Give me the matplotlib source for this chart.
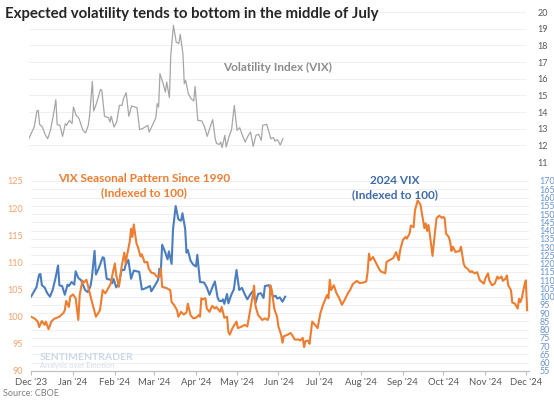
import matplotlib
matplotlib.use("Agg")
import matplotlib.pyplot as plt
import matplotlib.dates as mdates
import numpy as np
import pandas as pd

plt.rcParams['font.family'] = ['Lato', 'DejaVu Sans']

start = pd.Timestamp('2023-12-01')

# VIX level, days counted from 1 Dec 2023
vix_days = [0, 4, 6, 7, 8, 10, 12, 14, 16, 18, 20, 21, 23, 25, 27, 28, 30, 32, 33, 35,
            37, 40, 42, 44, 45, 47, 48, 50, 53, 54, 56, 59, 60, 61, 63, 65, 67, 69, 70, 72,
            74, 76, 80, 82, 84, 88, 89, 92, 94, 95, 96, 97, 99, 101, 102, 104, 105, 107, 109, 111,
            112, 114, 115, 116, 118, 120, 122, 123, 125, 128, 130, 132, 134, 136, 138, 139, 141, 142, 143, 145,
            146, 148, 150, 152, 154, 156, 158, 160, 162, 164, 166, 168, 170, 172, 173, 176, 178, 179, 181, 182,
            184, 186, 188]
vix = [12.4, 13.1, 14.06, 14.1, 13.26, 13.1, 12.66, 12.4, 12.9, 13.74, 14.74, 13.24, 13.2, 12.54, 13.3, 13.2, 13.5, 13.3, 14.3, 13.8,
       13.64, 12.9, 12.74, 13.2, 13.8, 15.84, 14.06, 14.5, 15.36, 15.3, 13.74, 13.66, 13.4, 13.74, 13.1, 13.4, 14.4, 14.4, 14.8, 15.16,
       13.74, 14.36, 14.26, 12.94, 13.0, 13.2, 12.8, 13.3, 13.66, 14.5, 14.3, 16.3, 15.8, 15.2, 15.8, 14.86, 17.4, 19.2, 18.2, 18.1,
       18.66, 17.5, 15.7, 15.9, 15.1, 14.8, 14.66, 15.54, 13.5, 13.46, 13.1, 12.54, 13.06, 13.54, 12.34, 12.1, 12.06, 12.2, 11.86, 12.6,
       11.9, 12.5, 12.94, 14.4, 12.9, 13.06, 12.6, 12.2, 12.54, 12.8, 11.94, 12.6, 12.66, 12.3, 13.2, 13.26, 12.7, 12.4, 12.46, 12.26,
       12.34, 12.02, 12.4]

# VIX seasonal pattern since 1990, indexed to 100
seas_days = [0, 3, 5, 6, 8, 10, 11, 12, 13, 15, 17, 19, 21, 24, 25, 26, 28, 29, 31, 33,
             35, 36, 38, 39, 41, 42, 45, 48, 51, 53, 55, 57, 59, 60, 62, 63, 65, 67, 69, 70,
             71, 73, 74, 75, 76, 78, 79, 81, 82, 84, 86, 87, 89, 91, 93, 95, 96, 97, 100, 103,
             104, 106, 108, 109, 111, 113, 115, 116, 118, 120, 122, 124, 125, 126, 127, 129, 130, 132, 134, 136,
             137, 138, 140, 141, 143, 145, 146, 147, 149, 152, 153, 156, 158, 160, 162, 164, 165, 166, 168, 171,
             173, 175, 176, 177, 178, 180, 182, 183, 185, 186, 187, 190, 192, 193, 195, 198, 199, 201, 202, 203,
             205, 206, 208, 210, 212, 214, 216, 219, 220, 221, 222, 224, 226, 228, 230, 232, 235, 236, 238, 241,
             243, 246, 248, 249, 250, 251, 253, 256, 258, 259, 262, 263, 265, 268, 270, 272, 273, 275, 277, 278,
             280, 281, 283, 284, 286, 288, 289, 291, 292, 293, 294, 295, 297, 299, 300, 302, 304, 305, 306, 307,
             309, 310, 311, 312, 314, 315, 317, 318, 320, 321, 323, 325, 326, 328, 330, 332, 335, 336, 338, 339,
             341, 343, 345, 346, 348, 349, 351, 352, 353, 355, 356, 358, 360, 361, 362, 363, 365, 366, 367]
seasonal = [100.0, 99.6, 99.1, 98.1, 99.2, 98.5, 99.1, 98.4, 97.7, 99.1, 99.6, 99.8, 100.0, 100.7, 101.2, 102.9, 101.8, 103.7, 104.1, 103.4,
            99.4, 104.0, 106.6, 106.3, 106.8, 105.8, 102.8, 100.0, 101.2, 104.9, 104.3, 105.2, 106.1, 107.5, 109.8, 107.7, 105.5, 109.2, 111.8, 109.8,
            111.3, 113.8, 116.2, 114.7, 117.0, 113.5, 112.9, 111.1, 111.5, 110.0, 110.1, 108.9, 108.1, 108.0, 107.4, 107.4, 108.9, 105.5, 105.3, 104.9,
            102.7, 102.1, 101.2, 100.0, 100.9, 100.4, 100.8, 102.4, 100.3, 99.7, 99.8, 100.3, 100.0, 103.4, 103.2, 103.4, 101.5, 100.9, 102.0, 101.5,
            101.8, 101.5, 100.9, 101.8, 99.8, 100.0, 97.2, 96.7, 97.9, 99.1, 97.9, 98.2, 98.5, 98.2, 101.1, 103.9, 105.7, 102.0, 100.3, 99.4,
            99.7, 99.4, 100.0, 105.8, 105.0, 101.4, 100.0, 98.2, 96.7, 95.2, 96.4, 96.7, 97.0, 96.7, 95.8, 95.8, 95.6, 96.1, 94.4, 95.5,
            95.6, 95.0, 99.1, 98.5, 97.9, 100.6, 102.2, 104.0, 103.4, 106.8, 104.9, 105.8, 104.3, 103.4, 102.2, 103.1, 104.6, 104.9, 106.0, 106.6,
            106.2, 106.3, 106.5, 108.3, 111.6, 110.4, 111.0, 109.5, 108.6, 108.3, 108.0, 110.1, 110.4, 110.8, 111.9, 110.4, 112.2, 114.1, 114.7, 114.4,
            115.3, 116.8, 116.5, 119.6, 121.4, 120.7, 119.2, 116.3, 117.2, 115.8, 116.9, 115.2, 111.2, 116.0, 118.2, 118.6, 118.2, 118.4, 118.1, 115.3,
            114.7, 113.8, 112.1, 112.9, 111.9, 112.0, 112.1, 112.9, 109.8, 109.2, 108.8, 108.2, 108.4, 108.0, 108.2, 106.7, 106.1, 107.0, 108.0, 106.7,
            105.8, 106.1, 107.4, 107.0, 107.4, 106.6, 107.0, 107.6, 105.8, 104.9, 102.6, 102.4, 101.5, 103.3, 102.7, 103.4, 105.8, 106.7, 101.2]

vix_dates = start + pd.to_timedelta(vix_days, unit='D')
seas_dates = start + pd.to_timedelta(seas_days, unit='D')
vix_indexed = np.array(vix) / vix[0] * 100

orange = '#ED7D31'
blue = '#4A7EBF'
grid_c = '#EDEDED'
tick_c = '#595959'

fig = plt.figure(figsize=(5.54, 4.0), dpi=100)
xmin, xmax = pd.Timestamp('2023-12-01'), pd.Timestamp('2024-12-03')

# top panel: VIX level
ax_top = fig.add_axes([0.052, 0.595, 0.898, 0.375])
ax_top.plot(vix_dates, vix, color='#A6A6A6', lw=0.9)
ax_top.set_ylim(11, 20)
ax_top.set_xlim(xmin, xmax)
ax_top.set_yticks(range(11, 21))
ax_top.yaxis.tick_right()
ax_top.tick_params(axis='y', length=0, labelsize=6.5, labelcolor=tick_c, pad=8)
ax_top.set_xticks([])
ax_top.grid(axis='y', color=grid_c, lw=0.6)
ax_top.set_axisbelow(True)
for s in ax_top.spines.values():
    s.set_visible(False)
ax_top.patch.set_visible(False)
ax_top.text(0.5, 0.63, 'Volatility Index (VIX)', transform=ax_top.transAxes,
            color='#8C8C8C', fontsize=8.5, fontweight='bold', ha='center', va='center')

# bottom panel: seasonal (left) and 2024 VIX (right)
ax = fig.add_axes([0.056, 0.0725, 0.898, 0.475])
ax2 = ax.twinx()
ax2.plot(vix_dates, vix_indexed, color=blue, lw=1.5)
ax.plot(seas_dates, seasonal, color=orange, lw=1.5)
ax.set_zorder(ax2.get_zorder() + 1)
ax.patch.set_visible(False)

ax.set_ylim(90, 125)
ax.set_yticks(range(90, 126, 5))
ax2.set_ylim(55, 170)
ax2.set_yticks(range(55, 171, 5))
ax.set_xlim(xmin, xmax)
ax2.grid(axis='y', color=grid_c, lw=0.6)
ax2.set_axisbelow(True)

ax.tick_params(axis='y', length=0, labelsize=6.5, labelcolor='#F4A26B', pad=6)
ax2.tick_params(axis='y', length=0, labelsize=6.5, labelcolor='#6A93D0', pad=8)

months = pd.date_range('2023-12-01', '2024-12-01', freq='MS')
ax.set_xticks(months)
ax.xaxis.set_major_formatter(mdates.DateFormatter("%b '%y"))
ax.tick_params(axis='x', labelsize=6.8, labelcolor=tick_c, color='#BFBFBF', length=3, pad=2)

for a in (ax, ax2):
    for name, s in a.spines.items():
        s.set_visible(name == 'bottom')
    a.spines['bottom'].set_color('#BFBFBF')
    a.spines['bottom'].set_linewidth(0.8)

fig.text(0.26, 0.535, 'VIX Seasonal Pattern Since 1990\n(Indexed to 100)', color=orange,
         fontsize=8.5, fontweight='bold', ha='center', va='center', linespacing=1.35)
fig.text(0.713, 0.53, '2024 VIX\n(Indexed to 100)', color='#3F6BA8',
         fontsize=8.5, fontweight='bold', ha='center', va='center', linespacing=1.35)

# watermark
fig.text(0.072, 0.1, 'SENTIMENTRADER', color='#CCD8E7', fontsize=7.5, fontweight='bold')
fig.text(0.072, 0.08, 'Analysis over Emotion', color='#D6DFEA', fontsize=5.5)

fig.text(0.009, 0.965, 'Expected volatility tends to bottom in the middle of July',
         fontsize=10.8, fontweight='bold', color='#262626', ha='left', va='center')
fig.text(0.006, 0.017, 'Source: CBOE', fontsize=6.5, color='#7F7F7F', ha='left', va='center')

fig.savefig('out.png', dpi=100)
